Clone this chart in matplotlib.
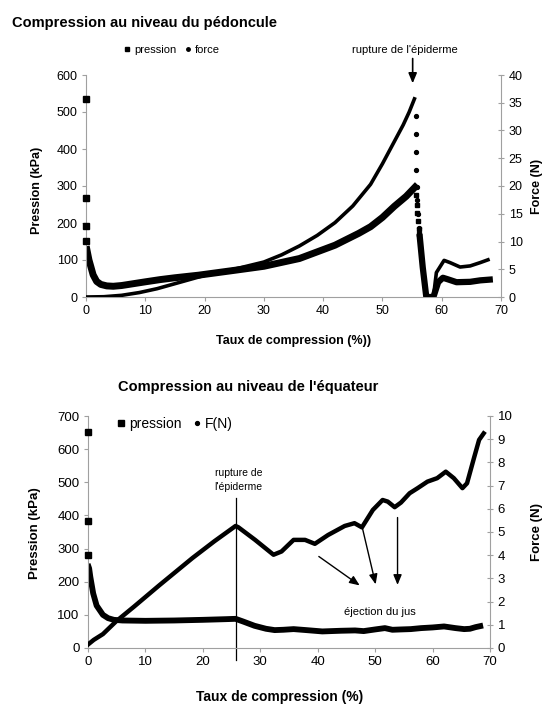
import matplotlib
matplotlib.use('Agg')
import matplotlib.pyplot as plt
from matplotlib.lines import Line2D

plt.rcParams['font.family'] = ['Liberation Sans', 'DejaVu Sans']

# --- Compression au niveau du pédoncule ---
ped_p_iso_x = [0, 0, 0, 0]
ped_p_iso_y = [535, 268, 191, 152]
ped_p_x = [0.15, 0.5, 0.8, 1.2, 1.8, 2.5, 3.5, 4.6, 6, 8, 10, 12.5, 15, 19, 25, 30, 36, 42, 46, 48, 50, 52, 54, 55.5]
ped_p_y = [128, 100, 83, 60, 42, 34, 30, 29, 31, 36, 41, 47, 52, 59, 72, 83, 104, 140, 172, 190, 215, 245, 272, 297]
ped_p_drop_x = [55.7, 55.8, 55.9, 56.0, 56.1, 56.2]
ped_p_drop_y = [275, 250, 228, 205, 185, 170]
ped_p_post_x = [56.3, 56.8, 57.4, 58.6, 59.4, 60.2, 61.0, 62.5, 64.8, 66.5, 68.1]
ped_p_post_y = [162, 80, 0, 0, 40, 52, 48, 40, 41, 45, 47]

ped_f_x = [0, 3, 6, 9, 12, 15, 18, 21, 25, 30, 33, 36, 39, 42, 45, 48, 50, 52, 53.5, 54.5, 55.4]
ped_f_y = [0, 0.05, 0.3, 0.8, 1.5, 2.4, 3.3, 4.2, 5.0, 6.3, 7.6, 9.2, 11.1, 13.4, 16.4, 20.3, 24.0, 28.0, 31.0, 33.3, 35.7]
ped_f_drop_x = [55.6, 55.6, 55.6, 55.6, 55.8, 55.9, 56.0, 56.1]
ped_f_drop_y = [32.7, 29.4, 26.2, 22.9, 19.8, 17.5, 15.0, 12.5]
ped_f_post_x = [56.2, 56.8, 57.4, 58.6, 59.1, 60.4, 61.4, 63.1, 64.8, 66.5, 67.8]
ped_f_post_y = [11, 5.5, 0, 0, 4.4, 6.6, 6.2, 5.4, 5.6, 6.2, 6.7]

# --- Compression au niveau de l'équateur ---
equ_p_iso_x = [0, 0, 0]
equ_p_iso_y = [653, 383, 280]
equ_p_x = [0.1, 0.2, 0.4, 0.9, 1.5, 2.6, 3.5, 4.5, 6, 10, 15, 20, 24, 25.7, 27, 29, 31, 32.5, 34, 35.8, 38,
           40.8, 44, 46.5, 48, 50, 51.7, 53, 54.5, 56.2, 58, 60, 62, 64, 65.5, 66.5, 67.5, 68.3]
equ_p_y = [245, 240, 215, 165, 128, 100, 90, 85, 83, 82, 83, 85, 87, 88, 80, 67, 58, 54, 55, 57, 54,
           50, 52, 53, 51, 56, 60, 55, 56, 57, 60, 62, 65, 60, 57, 58, 63, 66]
equ_f_x = [0, 1, 2.6, 4.9, 8, 12.4, 18.2, 22, 25.7, 26.2, 29.1, 32.3, 33.7, 35.8, 37.8, 39.5, 41.8, 44.7,
           46.4, 47.7, 49.6, 51.3, 52.2, 53.4, 54.5, 56, 57.4, 59.1, 60.8, 62.3, 63.7, 65.2, 66, 67.2, 68.1, 68.9]
equ_f_y = [0.15, 0.35, 0.6, 1.15, 1.78, 2.7, 3.88, 4.6, 5.26, 5.2, 4.66, 4.02, 4.16, 4.66, 4.66, 4.49, 4.87, 5.26,
           5.38, 5.2, 5.95, 6.38, 6.31, 6.07, 6.27, 6.67, 6.89, 7.17, 7.32, 7.6, 7.32, 6.89, 7.1, 8.18, 8.97, 9.25]

rupture_equ = 25.8
ejection_x = [39.8, 47.7, 53.9]
ejection_y = [281, 368, 402]
ejection_tip_x = [47.7, 50.2, 53.9]
ejection_tip_y = [184, 184, 182]

W, H = 545, 707
fig = plt.figure(figsize=(W / 100, H / 100), dpi=100)
gray = '#a0a0a0'


def style_axes(ax, ax2, fs):
    for a in (ax, ax2):
        a.spines['top'].set_visible(False)
        for s in ('left', 'right', 'bottom'):
            a.spines[s].set_color(gray)
            a.spines[s].set_linewidth(0.8)
    # the twin only keeps its right spine so it does not cover the markers at x=0
    ax2.spines['left'].set_visible(False)
    ax2.spines['bottom'].set_visible(False)
    ax.spines['right'].set_visible(False)
    ax.tick_params(axis='both', direction='out', length=3, color=gray, labelsize=fs, pad=3)
    ax2.tick_params(axis='y', direction='inout', length=5, color=gray, labelsize=fs, pad=3)


def fx(px):
    return px / W


def fy(py):
    return 1 - py / H


# top chart
ax = fig.add_axes([fx(86), fy(297), 415 / W, 222 / H])
ax2 = ax.twinx()
ax.set_xlim(0, 70)
ax.set_ylim(0, 600)
ax2.set_ylim(0, 40)
ax.set_xticks(range(0, 71, 10))
ax.set_yticks(range(0, 601, 100))
ax2.set_yticks(range(0, 41, 5))
style_axes(ax, ax2, 9)

ax.plot(ped_p_x, ped_p_y, color='black', lw=5, solid_joinstyle='round')
ax.plot(ped_p_post_x, ped_p_post_y, color='black', lw=4.5, solid_joinstyle='round')
ax.plot(ped_p_iso_x, ped_p_iso_y, 's', color='black', ms=3.8, clip_on=False, zorder=4)
ax.plot(ped_p_drop_x, ped_p_drop_y, 's', color='black', ms=3.5)
ax2.plot(ped_f_x, ped_f_y, color='black', lw=2.6)
ax2.plot(ped_f_drop_x, ped_f_drop_y, 'o', color='black', ms=2.8)
ax2.plot(ped_f_post_x, ped_f_post_y, color='black', lw=2.6)

ax.annotate('', xy=(55.1, 570), xytext=(55.1, 652),
            arrowprops=dict(arrowstyle='-|>,head_length=0.6,head_width=0.25', color='black', lw=1.2),
            annotation_clip=False)
fig.text(fx(405), fy(50), "rupture de l'épiderme", ha='center', va='center', fontsize=8)

fig.text(fx(12), fy(23), 'Compression au niveau du pédoncule', ha='left', va='center',
         fontsize=10.5, fontweight='bold')
fig.text(fx(37), fy(190), 'Pression (kPa)', rotation=90, ha='center', va='center',
         fontsize=9, fontweight='bold')
fig.text(fx(537), fy(186), 'Force (N)', rotation=90, ha='center', va='center',
         fontsize=9, fontweight='bold')
fig.text(fx(294), fy(341), 'Taux de compression (%))', ha='center', va='center',
         fontsize=9, fontweight='bold')

h1 = [Line2D([], [], ls='none', marker='s', color='black', ms=3.5),
      Line2D([], [], ls='none', marker='o', color='black', ms=2.5)]
fig.legend(h1, ['pression', 'force'], loc='center', bbox_to_anchor=(fx(172), fy(50)), ncol=2,
           frameon=False, fontsize=8, handlelength=0.6, handletextpad=0.3, columnspacing=0.8)

# bottom chart
bx = fig.add_axes([fx(88), fy(648), 402 / W, 232 / H])
bx2 = bx.twinx()
bx.set_xlim(0, 70)
bx.set_ylim(0, 700)
bx2.set_ylim(0, 10)
bx.set_xticks(range(0, 71, 10))
bx.set_yticks(range(0, 701, 100))
bx2.set_yticks(range(0, 11, 1))
style_axes(bx, bx2, 9.5)

bx.plot(equ_p_x, equ_p_y, color='black', lw=4.2, solid_joinstyle='round')
bx.plot(equ_p_iso_x, equ_p_iso_y, 's', color='black', ms=3.8, clip_on=False, zorder=4)
bx2.plot(equ_f_x, equ_f_y, color='black', lw=3.2, solid_joinstyle='round')

bx.plot([rupture_equ, rupture_equ], [452, -35], color='black', lw=0.9, clip_on=False)
bx.text(26.2, 506, "rupture de\nl'épiderme", ha='center', va='center', fontsize=7.5, linespacing=1.5)
for x0, y0, x1, y1 in zip(ejection_x, ejection_y, ejection_tip_x, ejection_tip_y):
    bx.annotate('', xy=(x1, y1), xytext=(x0, y0),
                arrowprops=dict(arrowstyle='-|>,head_length=0.6,head_width=0.25', color='black', lw=1.0))
bx.text(50.8, 110, 'éjection du jus', ha='center', va='center', fontsize=8)

fig.text(fx(248), fy(387), "Compression au niveau de l'équateur", ha='center', va='center',
         fontsize=10.5, fontweight='bold')
fig.text(fx(35), fy(533), 'Pression (kPa)', rotation=90, ha='center', va='center',
         fontsize=9.5, fontweight='bold')
fig.text(fx(537), fy(532), 'Force (N)', rotation=90, ha='center', va='center',
         fontsize=9.5, fontweight='bold')
fig.text(fx(280), fy(697), 'Taux de compression (%)', ha='center', va='center',
         fontsize=10, fontweight='bold')

h2 = [Line2D([], [], ls='none', marker='s', color='black', ms=3.8),
      Line2D([], [], ls='none', marker='o', color='black', ms=2.8)]
fig.legend(h2, ['pression', 'F(N)'], loc='center', bbox_to_anchor=(fx(175), fy(424)), ncol=2,
           frameon=False, fontsize=10, handlelength=0.6, handletextpad=0.3, columnspacing=0.8)

fig.savefig('out.png', dpi=100)
